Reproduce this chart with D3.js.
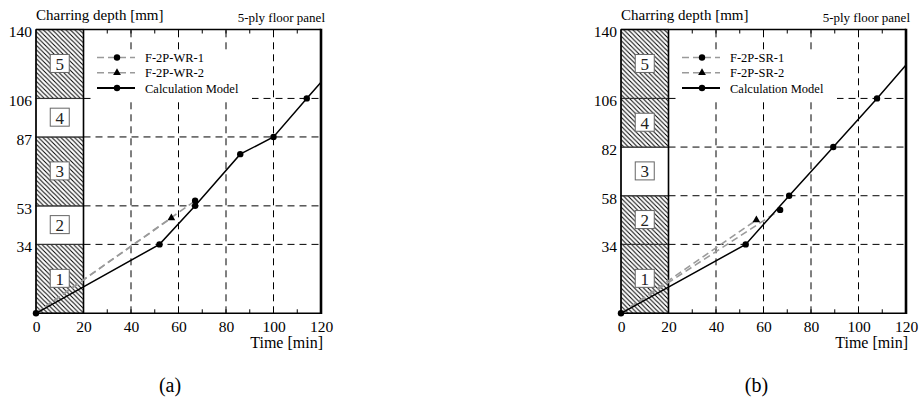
<!DOCTYPE html>
<html>
<head>
<meta charset="utf-8">
<script src="https://cdn.jsdelivr.net/npm/d3@7"></script>
<style>
  html, body { margin: 0; padding: 0; background: #fff; }
  svg { display: block; font-family: "Liberation Serif", "Times New Roman", serif; }
</style>
</head>
<body>
<svg id="chart" width="920" height="403"></svg>
<script>
// ---------- data ----------
const xTickValues = [0, 20, 40, 60, 80, 100, 120];
const minorTickValues = [20, 30, 40, 50, 60, 70, 80, 90, 100, 110];
const gridX = [40, 60, 80, 100];

const captions = ["(a)", "(b)"];
const yTitle = "Charring depth [mm]";
const xTitle = "Time [min]";
const panelTitle = "5-ply floor panel";

// layer boundaries (mm) and hatching per layer (1..5)
const layersA = [0, 34, 53, 87, 106, 140];
const hatchA = [true, false, true, false, true];
const layersB = [0, 34, 58, 82, 106, 140];
const hatchB = [true, true, false, true, true];
const layerNames = ["1", "2", "3", "4", "5"];

// calculation model
const calcA_time = [0, 52, 67, 86, 100, 114, 120];
const calcA_depth = [0, 34, 53, 78.5, 87, 106, 114];
const calcB_time = [0, 52.5, 70.8, 89.4, 107.8, 120];
const calcB_depth = [0, 34, 58, 82, 106, 122.5];

// tests (end points; lines start at origin)
const testA_names = ["F-2P-WR-1", "F-2P-WR-2"];
const testA_time = [67, 57];
const testA_depth = [55.5, 47];
const testB_names = ["F-2P-SR-1", "F-2P-SR-2"];
const testB_time = [67, 57];
const testB_depth = [51, 46];
const testShapes = ["circle", "triangle"];
const calcName = "Calculation Model";

// ---------- drawing ----------
const svg = d3.select("#chart");
const defs = svg.append("defs");
const P = 4.5;
const pat = defs.append("pattern")
  .attr("id", "hatch").attr("patternUnits", "userSpaceOnUse")
  .attr("width", P).attr("height", P);
pat.append("rect").attr("width", P).attr("height", P).attr("fill", "#fff");
pat.append("path")
  .attr("d", `M-1,-1 L${P + 1},${P + 1} M-1,${P - 1} L1,${P + 1} M${P - 1},-1 L${P + 1},1`)
  .attr("stroke", "#000").attr("stroke-width", 1);

const GRAY = "#9a9a9a";

function drawPanel(cfg) {
  const g = svg.append("g");
  const x = d3.scaleLinear().domain([0, 120]).range([cfg.left, cfg.left + 285]);
  const y = d3.scaleLinear().domain([0, 140]).range([313.3, 29.5]);
  const layers = cfg.layers;
  const boundaries = layers.slice(1, -1);

  // dashed grid
  g.selectAll(".gx").data(gridX).join("line")
    .attr("x1", d => x(d)).attr("x2", d => x(d))
    .attr("y1", y(0)).attr("y2", y(140))
    .attr("stroke", "#000").attr("stroke-width", 1)
    .attr("stroke-dasharray", "7,5");
  g.selectAll(".gy").data(boundaries).join("line")
    .attr("x1", x(20)).attr("x2", x(120))
    .attr("y1", d => y(d)).attr("y2", d => y(d))
    .attr("stroke", "#000").attr("stroke-width", 1)
    .attr("stroke-dasharray", "7,5");

  // minor ticks top & bottom
  g.selectAll(".tb").data(minorTickValues).join("line")
    .attr("x1", d => x(d)).attr("x2", d => x(d))
    .attr("y1", y(0)).attr("y2", y(0) - 4)
    .attr("stroke", "#000").attr("stroke-width", 1);
  g.selectAll(".tt").data(minorTickValues).join("line")
    .attr("x1", d => x(d)).attr("x2", d => x(d))
    .attr("y1", y(140)).attr("y2", y(140) + 4)
    .attr("stroke", "#000").attr("stroke-width", 1);

  // legend background
  g.append("rect")
    .attr("x", cfg.left + 56).attr("y", 50)
    .attr("width", 160).attr("height", 50)
    .attr("fill", "#fff");

  // layers
  const layerIdx = d3.range(layers.length - 1);
  g.selectAll(".layer").data(layerIdx).join("rect")
    .attr("x", x(0)).attr("width", x(20) - x(0))
    .attr("y", i => y(layers[i + 1]))
    .attr("height", i => y(layers[i]) - y(layers[i + 1]))
    .attr("fill", i => cfg.hatch[i] ? "url(#hatch)" : "#fff")
    .attr("stroke", "#333").attr("stroke-width", 1.2);
  g.append("line").attr("x1", x(20)).attr("x2", x(20)).attr("y1", y(0)).attr("y2", y(140))
    .attr("stroke", "#000").attr("stroke-width", 1.5);

  // test lines
  const line = d3.line().x(d => x(d[0])).y(d => y(d[1]));
  cfg.testTime.forEach((t, i) => {
    g.append("path")
      .attr("d", line([[0, 0], [t, cfg.testDepth[i]]]))
      .attr("fill", "none").attr("stroke", GRAY)
      .attr("stroke-width", 1.6).attr("stroke-dasharray", "7,4");
  });

  // layer labels
  layerIdx.forEach(i => {
    const cy = y((layers[i] + layers[i + 1]) / 2);
    const cx = x(10);
    g.append("rect")
      .attr("x", cx - 9.5).attr("y", cy - 9.5)
      .attr("width", 19).attr("height", 18)
      .attr("fill", "#fff").attr("stroke", "#666").attr("stroke-width", 1);
    g.append("text")
      .attr("x", cx).attr("y", cy + 6)
      .attr("text-anchor", "middle").attr("font-size", 17).attr("fill", "#222")
      .text(layerNames[i]);
  });

  // calculation model
  const calcPts = cfg.calcTime.map((t, i) => [t, cfg.calcDepth[i]]);
  g.append("path").attr("d", line(calcPts))
    .attr("fill", "none").attr("stroke", "#000").attr("stroke-width", 1.5);
  g.selectAll(".cm").data(calcPts.slice(0, -1)).join("circle")
    .attr("cx", d => x(d[0])).attr("cy", d => y(d[1])).attr("r", 3.2)
    .attr("fill", "#000");

  // test markers
  const tri = d3.symbol().type(d3.symbolTriangle).size(26);
  cfg.testTime.forEach((t, i) => {
    if (testShapes[i] === "circle") {
      g.append("circle").attr("cx", x(t)).attr("cy", y(cfg.testDepth[i]))
        .attr("r", 3.2).attr("fill", "#000");
    } else {
      g.append("path").attr("d", tri())
        .attr("transform", `translate(${x(t)},${y(cfg.testDepth[i])})`)
        .attr("fill", "#000");
    }
  });

  // frame
  g.append("line").attr("x1", x(0)).attr("x2", x(0)).attr("y1", y(0)).attr("y2", y(140))
    .attr("stroke", "#000").attr("stroke-width", 1.5);
  g.append("line").attr("x1", x(0)).attr("x2", x(120)).attr("y1", y(0)).attr("y2", y(0))
    .attr("stroke", "#000").attr("stroke-width", 1.6);
  g.append("line").attr("x1", x(0)).attr("x2", x(120)).attr("y1", y(140)).attr("y2", y(140))
    .attr("stroke", "#000").attr("stroke-width", 1.4);
  g.append("line").attr("x1", x(120)).attr("x2", x(120)).attr("y1", y(0) + 0.8).attr("y2", y(140) - 0.7)
    .attr("stroke", "#000").attr("stroke-width", 2.6);

  // axes labels via d3 axes (no lines)
  const xAxis = d3.axisBottom(x).tickValues(xTickValues).tickSize(0).tickPadding(0);
  const xa = g.append("g").attr("transform", `translate(0,${y(0)})`).call(xAxis);
  xa.select(".domain").remove();
  xa.selectAll("text").attr("font-family", "Liberation Serif").attr("font-size", 15.5)
    .attr("fill", "#000").attr("dy", null).attr("y", 18.5);

  const yAxis = d3.axisLeft(y).tickValues(layers.slice(1)).tickSize(0).tickPadding(4);
  const ya = g.append("g").attr("transform", `translate(${x(0)},0)`).call(yAxis);
  ya.select(".domain").remove();
  ya.selectAll("text").attr("font-family", "Liberation Serif").attr("font-size", 15.5)
    .attr("fill", "#000").attr("dy", "0.48em");

  // titles
  g.append("text").attr("x", x(0)).attr("y", 20).attr("font-size", 15).text(yTitle);
  g.append("text").attr("x", x(120) + 4).attr("y", 21.5).attr("text-anchor", "end")
    .attr("font-size", 13).text(panelTitle);
  g.append("text").attr("x", x(120) + 2).attr("y", 347.5).attr("text-anchor", "end")
    .attr("font-size", 16).text(xTitle);
  g.append("text").attr("x", cfg.capX).attr("y", 392).attr("text-anchor", "middle")
    .attr("font-size", 20).text(cfg.caption);

  // legend
  const lx = cfg.left;
  const rows = [57.5, 72.7, 88];
  cfg.testNames.forEach((nm, i) => {
    g.append("line").attr("x1", lx + 61).attr("x2", lx + 99)
      .attr("y1", rows[i]).attr("y2", rows[i])
      .attr("stroke", GRAY).attr("stroke-width", 1.6).attr("stroke-dasharray", "7,4");
    if (testShapes[i] === "circle") {
      g.append("circle").attr("cx", lx + 81).attr("cy", rows[i]).attr("r", 3.2).attr("fill", "#000");
    } else {
      g.append("path").attr("d", tri()).attr("transform", `translate(${lx + 81},${rows[i]})`).attr("fill", "#000");
    }
    g.append("text").attr("x", lx + 109).attr("y", rows[i] + 4.5)
      .attr("font-size", 12.5).text(nm);
  });
  g.append("line").attr("x1", lx + 61).attr("x2", lx + 99)
    .attr("y1", rows[2]).attr("y2", rows[2]).attr("stroke", "#000").attr("stroke-width", 2);
  g.append("circle").attr("cx", lx + 81).attr("cy", rows[2]).attr("r", 3.2).attr("fill", "#000");
  g.append("text").attr("x", lx + 109).attr("y", rows[2] + 4.5)
    .attr("font-size", 12.5).text(calcName);
}

drawPanel({
  left: 36, layers: layersA, hatch: hatchA,
  calcTime: calcA_time, calcDepth: calcA_depth,
  testTime: testA_time, testDepth: testA_depth, testNames: testA_names,
  caption: captions[0], capX: 170
});
drawPanel({
  left: 621, layers: layersB, hatch: hatchB,
  calcTime: calcB_time, calcDepth: calcB_depth,
  testTime: testB_time, testDepth: testB_depth, testNames: testB_names,
  caption: captions[1], capX: 756.5
});
</script>
</body>
</html>
